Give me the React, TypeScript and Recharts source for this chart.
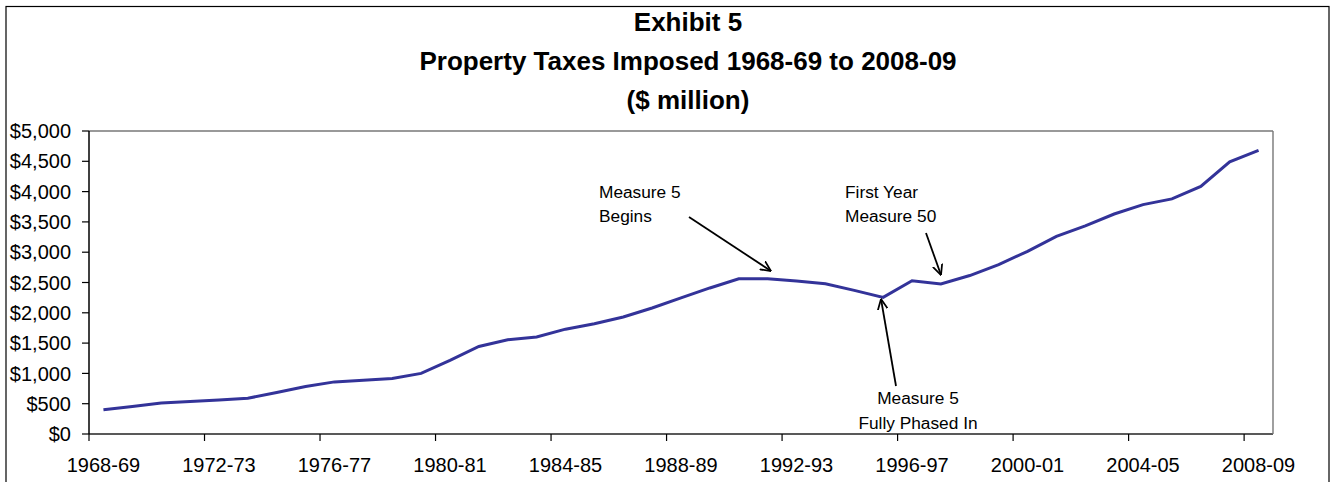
import { LineChart, Line, XAxis, YAxis } from "recharts";

// fiscal years, one category each
const years = [
  "1968-69", "1969-70", "1970-71", "1971-72", "1972-73", "1973-74", "1974-75", "1975-76",
  "1976-77", "1977-78", "1978-79", "1979-80", "1980-81", "1981-82", "1982-83", "1983-84",
  "1984-85", "1985-86", "1986-87", "1987-88", "1988-89", "1989-90", "1990-91", "1991-92",
  "1992-93", "1993-94", "1994-95", "1995-96", "1996-97", "1997-98", "1998-99", "1999-00",
  "2000-01", "2001-02", "2002-03", "2003-04", "2004-05", "2005-06", "2006-07", "2007-08",
  "2008-09",
];

// property taxes imposed, $ million
const taxes = [
  400, 455, 510, 535, 560, 590, 685, 785,
  860, 885, 915, 1000, 1215, 1445, 1555, 1600,
  1730, 1820, 1930, 2080, 2245, 2410, 2560, 2560,
  2525, 2480, 2370, 2255, 2530, 2475, 2615, 2795,
  3015, 3260, 3435, 3630, 3785, 3880, 4085, 4490,
  4680,
];

const yTicks = [0, 500, 1000, 1500, 2000, 2500, 3000, 3500, 4000, 4500, 5000];

const titleLines = ["Exhibit 5", "Property Taxes Imposed 1968-69 to 2008-09", "($ million)"];

const data = years.map((year, i) => ({ year, taxes: taxes[i] }));

const W = 1333;
const H = 482;
const PLOT_LEFT = 89;
const PLOT_RIGHT = 1273;
const HALF_STEP = (PLOT_RIGHT - PLOT_LEFT) / years.length / 2;
const FONT = "'Liberation Sans', Arial, sans-serif";

const money = (v: number) => "$" + v.toLocaleString("en-US");

// Excel style: tick mark sits between categories, label centred on category
const YearTick = ({ x, y, payload }: any) => (
  <g>
    <line x1={x - HALF_STEP} x2={x - HALF_STEP} y1={y} y2={y + 7} stroke="#000" strokeWidth={1.2} />
    <text x={x} y={y + 38} textAnchor="middle" fontSize={20} fill="#000" fontFamily={FONT}>
      {payload.value}
    </text>
  </g>
);

const Arrow = ({ x1, y1, x2, y2 }: { x1: number; y1: number; x2: number; y2: number }) => (
  <line x1={x1} y1={y1} x2={x2} y2={y2} stroke="#000" strokeWidth={1.8} markerEnd="url(#openArrow)" />
);

export default function App() {
  return (
    <div style={{ position: "relative", width: W, height: H, background: "#fff" }}>
      <style>{"body{margin:0}"}</style>
      <LineChart width={W} height={H} data={data} margin={{ top: 130, right: 59, bottom: 0, left: 0 }}>
        <XAxis
          dataKey="year"
          interval={3}
          height={48}
          padding={{ left: HALF_STEP, right: HALF_STEP }}
          tickSize={0}
          tickMargin={0}
          tickLine={false}
          tick={<YearTick />}
          axisLine={{ stroke: "#222", strokeWidth: 1.7 }}
        />
        <XAxis
          xAxisId="top"
          orientation="top"
          dataKey="year"
          height={1}
          padding={{ left: HALF_STEP, right: HALF_STEP }}
          tick={false}
          tickLine={false}
          axisLine={{ stroke: "#777", strokeWidth: 1.4 }}
        />
        <YAxis
          domain={[0, 5000]}
          ticks={yTicks}
          interval={0}
          width={89}
          tickSize={7}
          tickMargin={11}
          tickFormatter={money}
          tick={{ fill: "#000", fontSize: 20, fontFamily: FONT }}
          tickLine={{ stroke: "#000", strokeWidth: 1.2 }}
          axisLine={{ stroke: "#000", strokeWidth: 1.5 }}
        />
        <YAxis
          yAxisId="right"
          orientation="right"
          domain={[0, 5000]}
          width={1}
          tick={false}
          tickLine={false}
          axisLine={{ stroke: "#777", strokeWidth: 1.4 }}
        />
        <Line
          type="linear"
          dataKey="taxes"
          stroke="#333399"
          strokeWidth={3}
          dot={false}
          activeDot={false}
          isAnimationActive={false}
        />
      </LineChart>

      <svg
        width={W}
        height={H}
        style={{ position: "absolute", left: 0, top: 0, pointerEvents: "none" }}
        fontFamily={FONT}
      >
        <defs>
          <marker id="openArrow" viewBox="0 0 10 10" refX="9.5" refY="5" markerWidth="11" markerHeight="11"
            markerUnits="userSpaceOnUse" orient="auto">
            <path d="M0,0.5 L9.5,5 L0,9.5" fill="none" stroke="#000" strokeWidth={1.6} />
          </marker>
        </defs>
        <rect x={6} y={6.5} width={1323} height={520} fill="none" stroke="#000" strokeWidth={1.2} />

        {titleLines.map((t, i) => (
          <text key={t} x={688} y={31 + i * 39} textAnchor="middle" fontSize={26} fontWeight="bold" fill="#000">
            {t}
          </text>
        ))}

        <g fontSize={17.3} fill="#000">
          <text x={599} y={197.5}>Measure 5</text>
          <text x={599} y={222}>Begins</text>
          <text x={845} y={197.5}>First Year</text>
          <text x={845} y={222}>Measure 50</text>
          <text x={918} y={404} textAnchor="middle">Measure 5</text>
          <text x={918} y={428.5} textAnchor="middle">Fully Phased In</text>
        </g>
        <Arrow x1={689} y1={217} x2={771} y2={271} />
        <Arrow x1={926} y1={233} x2={941} y2={275} />
        <Arrow x1={896} y1={386} x2={881} y2={299} />
      </svg>
    </div>
  );
}
